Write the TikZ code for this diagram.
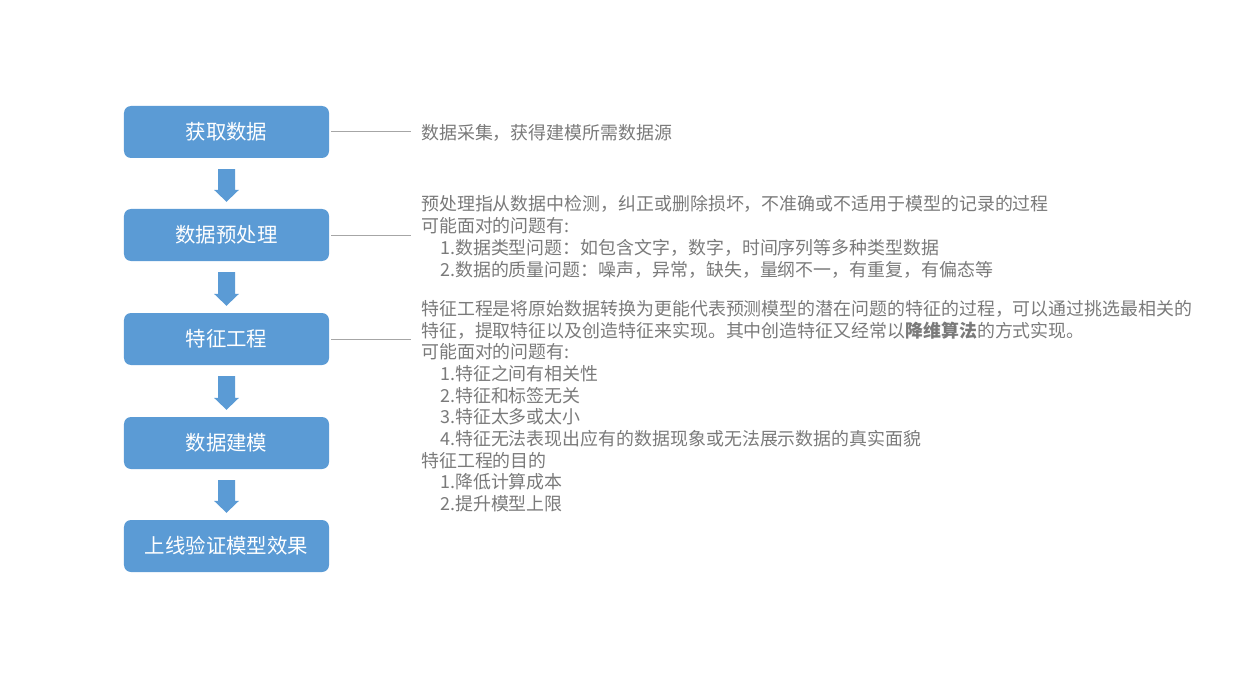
\documentclass[tikz,border=0pt]{standalone}
\usepackage{fontspec}
\setmainfont{Noto Sans CJK SC}
\usetikzlibrary{calc}
\definecolor{boxblue}{HTML}{5B9BD5}
\definecolor{txtgray}{HTML}{7A7A7A}
\definecolor{linegray}{HTML}{A6A6A6}
\newcommand\downarrowblock[2]{%
  \fill[boxblue] ($(#1.south)+(-8.5,11)$) -- ($(#1.south)+(8.5,11)$) --
    ($(#2.north)+(8.5,-19)$) -- ($(#2.north)+(12.5,-19)$) -- ($(#2.north)+(0,-7)$) --
    ($(#2.north)+(-12.5,-19)$) -- ($(#2.north)+(-8.5,-19)$) -- cycle;}
\begin{document}
\begin{tikzpicture}[x=1bp,y=-1bp,
  stepbox/.style={fill=boxblue, rounded corners=7bp, minimum width=205bp, minimum height=52bp, inner sep=0pt, text=white, font=\fontsize{20.5}{24}\selectfont},
  desc/.style={anchor=base west, inner sep=0pt, align=left, text=txtgray, font=\fontsize{18}{21.75}\selectfont},
  conn/.style={draw=linegray, line width=1bp}]
\useasboundingbox (0,0) rectangle (1237,695);
\node[stepbox] (b1) at (226.5,132) {获取数据};
\node[stepbox] (b2) at (226.5,235) {数据预处理};
\node[stepbox] (b3) at (226.5,339) {特征工程};
\node[stepbox] (b4) at (226.5,443) {数据建模};
\node[stepbox] (b5) at (226.5,546) {上线验证模型效果};
\downarrowblock{b1}{b2}
\downarrowblock{b2}{b3}
\downarrowblock{b3}{b4}
\downarrowblock{b4}{b5}
% base anchor of a multi-line node = baseline of its last line
\node[desc] (d1) at (421,140) {数据采集，获得建模所需数据源};
\node[desc] (d2) at (421,276) {预处理指从数据中检测，纠正或删除损坏，不准确或不适用于模型的记录的过程\\
可能面对的问题有:\\
\hspace*{19bp}1.数据类型问题：如包含文字，数字，时间序列等多种类型数据\\
\hspace*{19bp}2.数据的质量问题：噪声，异常，缺失，量纲不一，有重复，有偏态等};
\node[desc] (d3) at (421,510.5) {特征工程是将原始数据转换为更能代表预测模型的潜在问题的特征的过程，可以通过挑选最相关的\\
特征，提取特征以及创造特征来实现。其中创造特征又经常以\textbf{降维算法}的方式实现。\\
可能面对的问题有:\\
\hspace*{19bp}1.特征之间有相关性\\
\hspace*{19bp}2.特征和标签无关\\
\hspace*{19bp}3.特征太多或太小\\
\hspace*{19bp}4.特征无法表现出应有的数据现象或无法展示数据的真实面貌\\
特征工程的目的\\
\hspace*{19bp}1.降低计算成本\\
\hspace*{19bp}2.提升模型上限};
\draw[conn] ($(b1.east)+(2,0)$) -- ($(b1.east -| d1.west)+(-10,0)$);
\draw[conn] ($(b2.east)+(2,0)$) -- ($(b2.east -| d2.west)+(-10,0)$);
\draw[conn] ($(b3.east)+(2,0)$) -- ($(b3.east -| d3.west)+(-10,0)$);
\end{tikzpicture}
\end{document}
